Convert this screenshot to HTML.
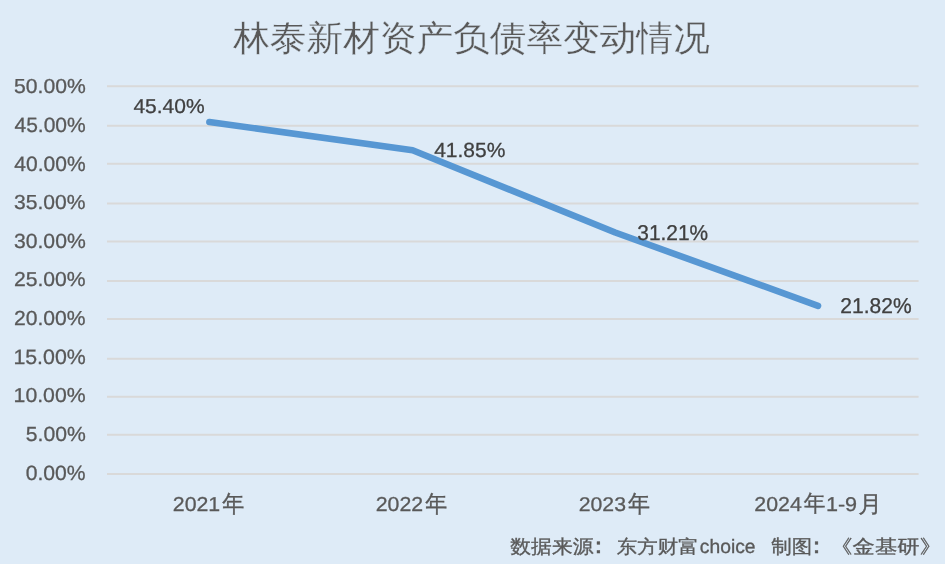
<!DOCTYPE html>
<html><head><meta charset="utf-8"><style>
html,body{margin:0;padding:0;background:#DEEBF7;overflow:hidden;}
svg{display:block;filter:blur(0.45px);}
text{font-family:"Liberation Sans",sans-serif;text-rendering:geometricPrecision;}
</style></head><body>
<svg width="945" height="564" viewBox="0 0 945 564">
<rect x="0" y="0" width="945" height="564" fill="#DEEBF7"/>
<line x1="107.0" y1="86.20" x2="918.6" y2="86.20" stroke="#D9D9D9" stroke-width="2.0"/>
<line x1="107.0" y1="125.80" x2="918.6" y2="125.80" stroke="#D9D9D9" stroke-width="2.0"/>
<line x1="107.0" y1="163.80" x2="918.6" y2="163.80" stroke="#D9D9D9" stroke-width="2.0"/>
<line x1="107.0" y1="203.40" x2="918.6" y2="203.40" stroke="#D9D9D9" stroke-width="2.0"/>
<line x1="107.0" y1="241.40" x2="918.6" y2="241.40" stroke="#D9D9D9" stroke-width="2.0"/>
<line x1="107.0" y1="281.10" x2="918.6" y2="281.10" stroke="#D9D9D9" stroke-width="2.0"/>
<line x1="107.0" y1="319.00" x2="918.6" y2="319.00" stroke="#D9D9D9" stroke-width="2.0"/>
<line x1="107.0" y1="358.70" x2="918.6" y2="358.70" stroke="#D9D9D9" stroke-width="2.0"/>
<line x1="107.0" y1="396.70" x2="918.6" y2="396.70" stroke="#D9D9D9" stroke-width="2.0"/>
<line x1="107.0" y1="434.80" x2="918.6" y2="434.80" stroke="#D9D9D9" stroke-width="2.0"/>
<line x1="107.0" y1="474.10" x2="918.6" y2="474.10" stroke="#D9D9D9" stroke-width="2.0"/>
<polyline points="209.4,122.0 412.6,150.2 615.2,232.5 818.0,305.8" fill="none" stroke="#5797D3" stroke-width="6.6" stroke-linecap="round" stroke-linejoin="round"/>
<text transform="translate(14.000,92.780) scale(0.9747,0.9324)" font-size="21.7" fill="#595959" stroke="#595959" stroke-width="0.3">50.00%</text>
<text transform="translate(14.470,132.218) scale(0.9683,0.9536)" font-size="21.7" fill="#595959" stroke="#595959" stroke-width="0.3">45.00%</text>
<text transform="translate(14.345,170.539) scale(0.9690,0.9588)" font-size="21.7" fill="#595959" stroke="#595959" stroke-width="0.3">40.00%</text>
<text transform="translate(13.985,208.756) scale(0.9725,0.9317)" font-size="21.7" fill="#595959" stroke="#595959" stroke-width="0.3">35.00%</text>
<text transform="translate(13.989,248.015) scale(0.9746,0.9460)" font-size="21.7" fill="#595959" stroke="#595959" stroke-width="0.3">30.00%</text>
<text transform="translate(13.941,286.319) scale(0.9742,0.9295)" font-size="21.7" fill="#595959" stroke="#595959" stroke-width="0.3">25.00%</text>
<text transform="translate(13.981,324.919) scale(0.9736,0.9345)" font-size="21.7" fill="#595959" stroke="#595959" stroke-width="0.3">20.00%</text>
<text transform="translate(13.379,364.048) scale(0.9835,0.9580)" font-size="21.7" fill="#595959" stroke="#595959" stroke-width="0.3">15.00%</text>
<text transform="translate(13.618,401.955) scale(0.9787,0.9297)" font-size="21.7" fill="#595959" stroke="#595959" stroke-width="0.3">10.00%</text>
<text transform="translate(25.779,440.972) scale(0.9748,0.9406)" font-size="21.7" fill="#595959" stroke="#595959" stroke-width="0.3">5.00%</text>
<text transform="translate(25.730,480.011) scale(0.9735,0.9540)" font-size="21.7" fill="#595959" stroke="#595959" stroke-width="0.3">0.00%</text>
<text transform="translate(133.402,112.825) scale(0.9592,0.9206)" font-size="21.9" fill="#404040" stroke="#404040" stroke-width="0.3">45.40%</text>
<text transform="translate(434.179,157.191) scale(0.9588,0.9360)" font-size="21.9" fill="#404040" stroke="#404040" stroke-width="0.3">41.85%</text>
<text transform="translate(637.318,240.450) scale(0.9534,0.9785)" font-size="21.9" fill="#404040" stroke="#404040" stroke-width="0.3">31.21%</text>
<text transform="translate(840.342,313.066) scale(0.9598,0.9795)" font-size="21.9" fill="#404040" stroke="#404040" stroke-width="0.3">21.82%</text>
<text transform="translate(172.798,511.159) scale(1.0055,0.9501)" font-size="21.2" fill="#595959" stroke="#595959" stroke-width="0.3">2021</text>
<text transform="translate(222.245,512.016) scale(0.9394,1.0134)" font-size="23.5" fill="#595959" stroke="#595959" stroke-width="0.35">年</text>
<text transform="translate(375.723,511.171) scale(1.0058,0.9518)" font-size="21.2" fill="#595959" stroke="#595959" stroke-width="0.3">2022</text>
<text transform="translate(425.159,511.882) scale(0.9355,1.0104)" font-size="23.5" fill="#595959" stroke="#595959" stroke-width="0.35">年</text>
<text transform="translate(578.750,510.587) scale(1.0017,0.9360)" font-size="21.2" fill="#595959" stroke="#595959" stroke-width="0.3">2023</text>
<text transform="translate(628.054,511.550) scale(0.9382,1.0124)" font-size="23.5" fill="#595959" stroke="#595959" stroke-width="0.35">年</text>
<text transform="translate(754.342,510.882) scale(1.0057,0.9520)" font-size="21.2" fill="#595959" stroke="#595959" stroke-width="0.3">2024</text>
<text transform="translate(803.828,511.360) scale(0.9279,0.9766)" font-size="23.5" fill="#595959" stroke="#595959" stroke-width="0.35">年</text>
<text transform="translate(825.891,511.158) scale(1.0193,0.9420)" font-size="21.2" fill="#595959" stroke="#595959" stroke-width="0.3">1-9</text>
<text transform="translate(858.167,511.980) scale(1.0164,0.9819)" font-size="23.5" fill="#595959" stroke="#595959" stroke-width="0.35">月</text>
<text transform="translate(233.195,50.418) scale(0.9909,0.9480)" font-size="37" fill="#595959" stroke="#DEEBF7" stroke-width="0.3">林泰新材资产负债率变动情况</text>
<text transform="translate(510.323,552.773) scale(0.9898,0.9056)" font-size="21" fill="#595959" stroke="#595959" stroke-width="0.35">数据来源</text>
<text transform="translate(585.717,552.980) scale(1.2077,1.0561)" font-size="21" fill="#595959" stroke="#595959" stroke-width="0.35">：</text>
<text transform="translate(616.682,552.654) scale(0.9753,0.8861)" font-size="21" fill="#595959" stroke="#595959" stroke-width="0.35">东方财富</text>
<text transform="translate(699.816,552.857) scale(0.9177,0.9189)" font-size="21" fill="#595959" stroke="#595959" stroke-width="0.35">choice</text>
<text transform="translate(771.171,553.359) scale(0.9743,0.9047)" font-size="21" fill="#595959" stroke="#595959" stroke-width="0.35">制图</text>
<text transform="translate(803.941,552.834) scale(1.1921,1.0592)" font-size="21" fill="#595959" stroke="#595959" stroke-width="0.35">：</text>
<text transform="translate(830.207,552.904) scale(1.0642,0.9020)" font-size="21" fill="#595959" stroke="#595959" stroke-width="0.35">《金基研》</text>
</svg></body></html>
